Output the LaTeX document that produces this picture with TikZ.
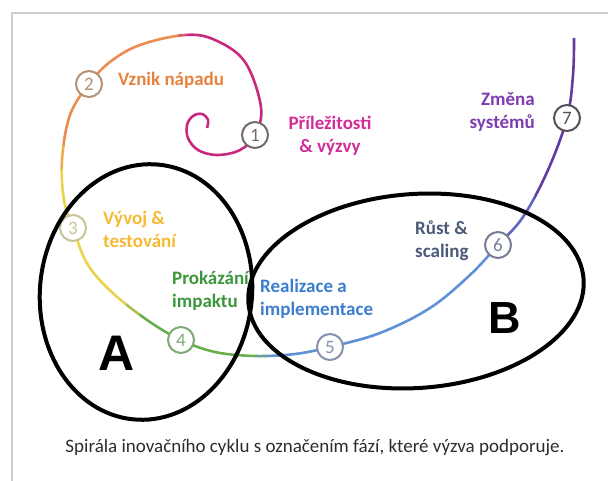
\documentclass[tikz,border=0pt]{standalone}
\usepackage{fontspec}
\setmainfont{Carlito}
\newfontfamily\letterfont{Liberation Sans}
\usetikzlibrary{backgrounds}
\definecolor{spmag}{RGB}{200,40,125}
\definecolor{spora}{RGB}{235,140,80}
\definecolor{spyel}{RGB}{235,210,75}
\definecolor{spgrn}{RGB}{105,175,80}
\definecolor{spblu}{RGB}{95,145,215}
\definecolor{sppur}{RGB}{100,60,160}
\definecolor{txmag}{RGB}{210,45,150}
\definecolor{txora}{RGB}{230,130,60}
\definecolor{txyel}{RGB}{245,185,50}
\definecolor{txgrn}{RGB}{60,150,60}
\definecolor{txblu}{RGB}{60,125,205}
\definecolor{txsla}{RGB}{75,90,120}
\definecolor{txpur}{RGB}{125,60,175}
\definecolor{ring1}{RGB}{115,105,110}
\definecolor{ring2}{RGB}{180,145,115}
\definecolor{ring3}{RGB}{200,195,150}
\definecolor{ring4}{RGB}{125,170,115}
\definecolor{ring5}{RGB}{135,145,175}
\definecolor{ring6}{RGB}{120,125,150}
\definecolor{ring7}{RGB}{85,80,90}
\definecolor{framegray}{RGB}{205,205,205}
\definecolor{capgray}{RGB}{45,45,45}
\begin{document}
\begin{tikzpicture}[x=1pt, y=1pt,
  stage/.style={circle, draw=#1, fill=white, line width=2pt, minimum size=26pt, inner sep=0pt, text=#1, font=\fontsize{19}{19}\selectfont},
  phase/.style={inner sep=0pt, text=#1, font=\fontsize{19}{23}\selectfont\bfseries},
  zone/.style={draw=black, line width=4pt}]
\useasboundingbox (0,0) rectangle (608,481);
\draw[framegray, line width=1.5pt] (12,0) -- (12,468) -- (608,468);

\node[stage=ring1] (n1) at (255,346) {1};
\node[stage=ring2] (n2) at (89,397) {2};
\node[stage=ring3] (n3) at (73,253) {3};
\node[stage=ring4] (n4) at (181,141) {4};
\node[stage=ring5] (n5) at (330,134) {5};
\node[stage=ring6] (n6) at (498,236) {6};
\node[stage=ring7] (n7) at (567,363) {7};
\coordinate (start) at (207,353);
\coordinate (top) at (574,443);

\begin{scope}[on background layer]
\foreach \c/\xa/\ya/\xb/\yb in {spmag/186/300/400/481, spmag!50!spora/178/300/186/481, spora/0/335/178/481,
  spora!50!spyel/0/311/178/335, spyel/0/0/126/311, spyel!50!spgrn/126/0/140/311, spgrn/140/0/256/300,
  spgrn!50!spblu/256/0/268/300, spblu/268/0/505/300, spblu!50!sppur/505/0/535/481, sppur/535/0/608/481}{
  \begin{scope}
    \clip (\xa,\ya) rectangle (\xb,\yb);
    \draw[draw=\c, line width=2.6pt] plot[smooth, tension=.6] coordinates {(start) (208,361) (202,367) (193,365)
      (187,356) (188,343) (198,331) (217,326) (240,331) (n1.center) (261,374) (245,419) (215,441) (185,446)
      (140,436) (110,419) (n2.center) (70,366) (62,321) (64,281) (n3.center) (88,216) (115,186) (150,159)
      (n4.center) (215,129) (255,125) (295,127) (n5.center) (380,148) (430,173) (470,206) (n6.center)
      (523,264) (548,311) (n7.center) (573,406) (top)};
  \end{scope}}
\end{scope}

\node[phase=txora, anchor=west] (t2) at (118,401) {Vznik nápadu};
\node[phase=txmag, align=center] (t1) at (330,345) {Příležitosti\\\& výzvy};
\node[phase=txpur, align=right, anchor=east] (t7) at (535,369) {Změna\\systémů};
\node[phase=txyel, align=left, anchor=west] (t3) at (103,252) {Vývoj \&\\testování};
\node[phase=txgrn, align=left, anchor=west] (t4) at (172,190) {Prokázání\\impaktu};
\node[phase=txblu, align=left, anchor=west] (t5) at (260,182) {Realizace a\\implementace};
\node[phase=txsla, align=left, anchor=west] (t6) at (415,240) {Růst \&\\scaling};

\draw[zone, rotate around={-6:(146,189)}] (146,189) ellipse [x radius=106, y radius=128];
\draw[zone, rotate around={4:(416,190)}] (416,190) ellipse [x radius=168, y radius=97];

\node[font=\letterfont\fontsize{50}{50}\selectfont\bfseries] (la) at (117,128) {A};
\node[font=\letterfont\fontsize{45}{45}\selectfont\bfseries] (lb) at (505,163) {B};

\node[text=capgray, font=\fontsize{19}{19}\selectfont] (cap) at (315,33) {Spirála inovačního cyklu s označením fází, které výzva podporuje.};
\end{tikzpicture}
\end{document}
